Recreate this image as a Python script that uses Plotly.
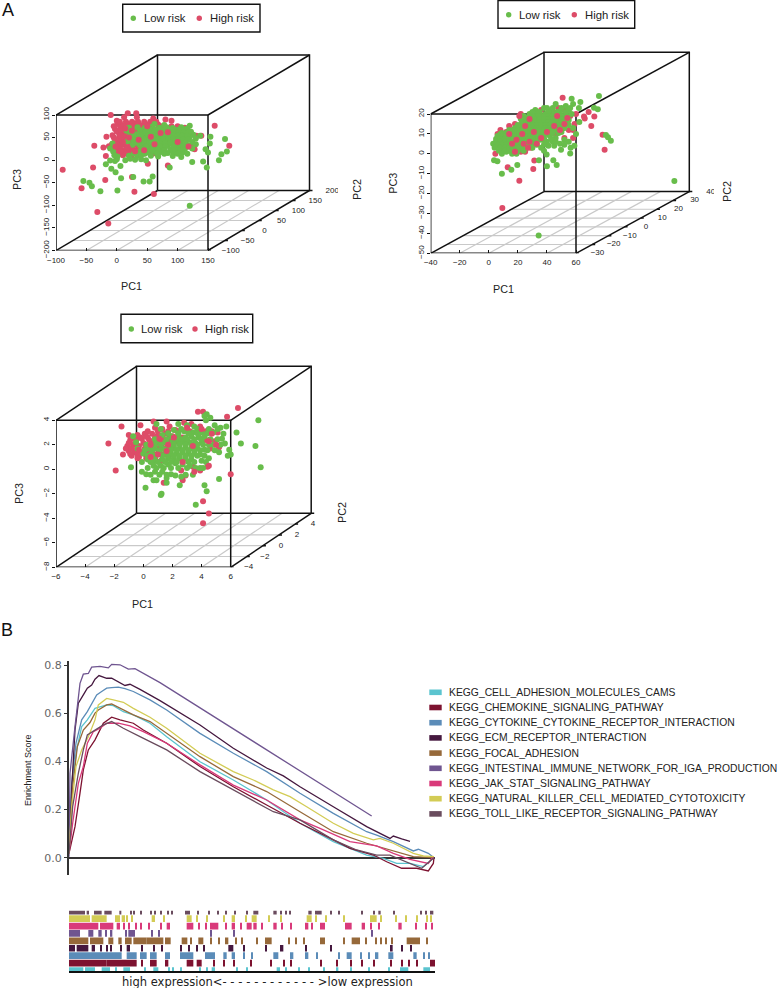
import plotly.graph_objects as go

W, H = 777, 988
GREEN, RED = "#68BD4B", "#DD4C68"

# ---------- Panel A1 (values read on the front plane of the box) ----------
a1_pc1_ticks = [-100, -50, 0, 50, 100, 150]
a1_pc2_ticks = [-100, -50, 0, 50, 100, 150, 200]
a1_pc3_ticks = [-200, -150, -100, -50, 0, 50, 100]
a1_high = [(-89,-21),(-58,-62),(-32,-115),(-14,-140),(61,-75),(29,-70),(-19,-44),(-39,-16),(-37,32),(185,32),(161,76),(-10,100),(18,104),(32,104),(84,-12),(25,-37),(-18,9),(-17,52),(-22,28),
 (0,87),(12,95),(33,95),(60,92),(80,90),(90,87),(112,72),(1,80),(8,78),(17,81),(23,79),(31,82),(38,78),(46,81),(52,79),(61,82),(68,79),(-3,69),(6,71),(13,68),(20,72),(29,69),(36,71),(44,68),
 (3,61),(9,59),(16,62),(25,58),(32,61),(40,59),(131,54),(139,54),(-5,50),(4,52),(12,49),(20,51),(28,48),(36,52),(44,49),(54,50),(4,41),(13,39),(20,42),(28,38),(38,41),(48,39),(62,42),(76,38),
 (-13,31),(-4,29),(6,32),(16,28),(26,31),(36,29),(46,32),(56,28),(72,30),(128,24),(0,20),(10,21),(20,18),(30,22),(42,19),(54,21),(-2,10),(10,11),(24,9),(38,12),(51,-8),(97,30),(110,40),(122,30)]
a1_high_rows = [(85,[5,15,25,35,45,55,65]),(75,[-5,10,25,40,55,75,90,100]),(64,[0,7,20,28,36,48]),(55,[-7,8,16,24,32,40]),(45,[-3,8,16,24,32,42]),(35,[-8,0,10,22,32,42,52]),(25,[-6,5,15,25,35,50]),(15,[5,15,27,45,60])]
a1_high_front = [(10,40),(18,28),(6,55),(25,65),(30,20),(45,22),(62,35),(72,60),(36,45),(50,75),(84,62),(100,40),(118,30),(56,52),(20,50),(-2,30),(6,20),(14,70)]
a1_low = [(120,-101),(-55,-46),(-45,-50),(-41,-58),(-27,-69),(1,-67),(7,-40),(27,-37),(44,-47),(54,-47),(59,-36),(-2,-27),(-9,-19),(-18,-9),(-11,-1),(-3,-2),(14,0),(6,-13),(87,-16),(148,-16),(124,-4),(142,-3),(168,0),(172,13),(181,19),(150,17),(146,24),(178,47),(154,52),(153,37),(137,54),
 (62,80),(78,78),(120,76),(20,72),(34,73),(46,71),(58,74),(70,72),(82,73),(92,71),(106,73),(116,70),(16,65),(26,64),(38,66),(50,65),(58,63),(66,66),(74,64),(82,66),(90,63),(98,65),(106,64),(114,66),(122,63),
 (22,58),(32,57),(42,59),(52,58),(60,56),(68,59),(76,57),(84,59),(92,56),(100,58),(108,57),(116,59),(126,56),(24,50),(36,49),(48,51),(56,50),(64,48),(72,51),(80,49),(88,51),(96,48),(104,50),(112,49),(120,51),(130,48),
 (18,42),(28,41),(40,43),(50,42),(58,40),(66,43),(74,41),(82,43),(90,40),(98,42),(106,41),(114,43),(124,40),(26,34),(38,33),(50,35),(58,34),(68,32),(76,35),(84,33),(92,35),(100,32),(110,34),(118,33),(130,35),
 (44,26),(54,25),(64,27),(74,26),(88,24),(102,27),(112,25),(124,26),(34,18),(50,17),(62,19),(72,18),(84,16),(92,19),(108,17),(116,14),(20,10),(34,9),(40,11),(56,10),(68,8),(92,9),(106,7),(0,2),(22,3),(30,1),(40,2),(48,0),(-6,19),(-11,26),(-7,37),(1,8),(-4,11)]
a1_low_rows = [(68,[55,63,71,79,87,95,103,111]),(61,[46,54,62,70,78,86,94,102,110,118]),(54,[28,40,52,60,68,76,84,92,100,108,116]),(46,[30,44,53,61,69,77,85,93,101,109,117]),(38,[34,46,54,62,70,80,88,96,104,112]),(30,[48,60,70,80,94,106,118]),(22,[40,58,68,78,96,104]),(14,[28,46,66,78,100])]

# ---------- Panel A2 ----------
a2_pc1_ticks = [-40, -20, 0, 20, 40, 60]
a2_pc2_ticks = [-30, -20, -10, 0, 10, 20, 30, 40]
a2_pc3_ticks = [-50, -40, -30, -20, -10, 0, 10, 20]
a2_high = [(9.3,-27.2),(21,-13.5),(13,-6.8),(30.6,-7.6),(31.3,-3.4),(4.5,0),(79.7,2),(78.3,9.6),(70.5,14),(72.6,18.7),(68.7,21),(50.8,28.2),(65.5,18.7),(66,17.7),(47.8,23),
 (22,20),(28,18.5),(36,22),(44,21),(52,22),(56,19),(60,20),(14,14),(18,15),(23,16),(27,14),(31,17),(48,17),(54,16),(59,15),(8,12),(12,11),(17,12),(21,13),(26,11),(32,11),(43,13),(50,14),(55,12),(58,12),
 (9,8),(14,7),(19,8),(23,7),(27,8),(31,5),(38,7),(46,10),(52,8),(18,3),(22,1),(25,1),(29,3),(34,8),(37,12),(40,15),(6,10),(58,8),(12,4),(33,14)]
a2_high_rows = []
a2_high_front = [(21,19),(28,17.5),(25,14),(31,11),(36,8),(19,7),(16,5),(24,5),(28,6),(45,14),(49,12),(52,15),(54,18),(47,19),(23,10),(27,3),(18,1),(33,5),(14,10),(40,11)]
a2_low = [(127.7,-13.7),(34.3,-41),(75.8,29),(57,27.7),(63,26),(72.4,23.2),(75,22.4),(80.6,9.5),(82,8.3),(84,6.6),(9,-10),(15.5,-8),(19.6,-5.6),(3.6,-3.3),(5.9,-3.8),(34.5,-3.3),(40,-6.3),(44.4,-3.3),(46.7,-5.6),(39.8,-0.3),(56,0.2),(49.7,2),(56.3,3),(58.9,4),(62.3,16),
 (46,25),(53,24),(58,25),(62,23),(32,22),(38,23),(43,22),(49,21),(55,22),(28,20),(32,20),(36,19),(39,20),(42,19),(45,20),(48,19),(52,19),(57,20),(26,18),(29,17),(33,18),(36,17),(39,18),(42,17),(45,18),(48,17),(51,16),(55,17),
 (24,16),(27,15),(30,16),(33,15),(36,15),(39,16),(42,15),(45,15),(48,14),(52,13),(58,13),(22,14),(25,13),(28,13),(31,13),(34,13),(37,14),(40,13),(43,12),(46,12),(50,11),(60,10),(16,11),(19,11),(22,11),(26,11),(29,10),(32,10),(35,11),(38,10),(42,9),(46,8),(52,7),
 (8,10),(11,9),(14,10),(17,9),(20,9),(23,9),(26,8),(29,8),(33,8),(36,7),(40,6),(44,6),(49,5),(55,6),(7,7),(10,6),(13,6),(16,6),(19,6),(22,6),(25,5),(28,5),(36,3),(41,4),(45,4),(4,5),(7,4),(10,2),(13,3),(16,3),(19,2),(22,3),(25,4),(16,0),(19,0),(12,1),(5,4),(3,5),(9,0)]
a2_low_rows = [(23,[40,44,50,56]),(21,[30,35,41,47,53]),(19,[24,30,34,38,41,44,47,50,54]),(17.5,[22,27,31,35,38,41,44,47,50,53]),(16,[23,26,29,32,35,38,41,44,47,50,53]),(14.5,[20,24,27,30,33,36,39,42,45,48,51,55]),(13,[18,21,24,27,30,33,36,39,42,45,48,51]),(12,[14,17,20,23,26,29,32,35,38,41,44]),(10.5,[9,12,15,18,21,24,27,30,33,36,40,44,48]),(9,[6,9,12,15,18,21,24,27,31,34,38]),(7.5,[5,8,11,14,17,20,23,27,30,34,38,43]),(6,[5,8,11,14,17,20,23,26,30,33,46]),(4.5,[6,9,12,15,18,21,24,27,33,38,52]),(3,[4,8,11,14,17,20,23,26,30]),(1.5,[7,11,14,17,20,24,38])]

# ---------- Panel A3 ----------
a3_pc1_ticks = [-6, -4, -2, 0, 2, 4, 6]
a3_pc2_ticks = [-4, -2, 0, 2, 4, 6]
a3_pc3_ticks = [-8, -6, -4, -2, 0, 2, 4]
a3_high = [(-2.4,2.1),(-1.9,-0.1),(-1.5,3.5),(-0.2,3.6),(-1,2.8),(4.1,-4.4),(4.5,-3.6),(4.1,-2.6),(6,-0.4),(6.5,5),(3.75,4.7),(4.1,4.7),(5.75,4.3),(2.9,-0.5),(1.4,-1.1),(-1.4,1.2),
 (0.7,3.9),(1.6,3.9),(2.8,3.8),(3.3,3.7),(0.8,3.4),(1.3,3.3),(1.8,3.5),(2.2,3.2),(-0.4,2.8),(0.1,2.9),(0.6,2.9),(1,2.8),(1.5,2.9),(2,2.7),(-0.9,2.4),(-0.5,2.4),(-0.1,2.5),(0.4,2.4),(0.9,2.3),(1.4,2.3),(1.9,2.2),(2.4,2.3),
 (-1.1,1.9),(-0.7,2),(-0.3,1.9),(0.2,1.9),(0.8,1.8),(1.3,1.8),(1.8,1.7),(-1,1.5),(-0.6,1.4),(-0.1,1.4),(0.4,1.4),(1,1.3),(1.5,1.2),(-0.8,1.1),(-0.3,1),(0.2,0.9),(0.8,0.9),(1.2,0.7),(3.9,3.5),(4.3,3.1),(4.7,3.1),(5.1,3),(3.8,2.6),(4.3,2.4),(4.9,2.3),(5.2,1.8),(4.6,1.7),(3.4,0.2),(3.9,-0.1),(4.4,0.2),(2.6,-0.1),(2.7,-0.9)]
a3_high_rows = [(3.1,[0.3,1,1.7,2.4,3.2]),(2.6,[-0.7,-0.2,0.3,0.8,1.3,1.8,2.2,2.7]),(2.15,[-1,-0.5,0,0.6,1.1,1.6,2.1]),(1.7,[-1.2,-0.8,-0.4,0.1,0.6,1.1,1.6]),(1.25,[-0.9,-0.4,0.1,0.7,1.2,1.8])]
a3_high_front = [(0.5,2),(-0.3,1.6),(1.1,2.5),(1.7,2),(0.2,2.7),(-0.8,1.7),(2.1,2.6),(1,1.2),(0.5,1),(3.4,1.9),(4.5,2.3),(4,3.3),(3,3.4),(1.6,1.5),(2.7,0.6),(3.5,-0.2),(4.5,0.3),(-0.4,0.9),(5,2),(4.7,2.9)]
a3_low = [(3.6,-2.9),(4.35,-1.8),(4.2,-1.3),(5.2,-0.8),(1.25,-2),(1.2,-2.1),(0.15,-1.5),(8.06,0.16),(7.7,1.9),(7.9,4),(6.7,2.1),(6.4,3),(6,1.2),(5.9,1.6),(-0.85,0.16),(-0.7,2.7),(2.5,-1.3),(4.35,4.5),(4.6,4.2),(4.2,4.35),(4.3,4),(1.6,-1.1),(0.7,-0.9),
 (0.9,3.7),(2.4,3.7),(3,3.6),(3.5,3.5),(4.9,3.6),(5.3,3.4),(5.7,3.5),(2.1,3.2),(2.8,3.1),(3.4,3),(4,3),(4.8,3),(5.5,2.9),(1.3,2.8),(1.9,2.7),(2.4,2.8),(2.9,2.6),(3.3,2.7),(3.8,2.6),(4.2,2.7),(5.4,2.5),(-0.5,2.2),(0.9,2.2),(1.5,2.2),(2,2.2),(2.4,2.3),(2.8,2.2),(3.2,2.2),(3.6,2.1),(4,2.2),(4.8,2),(5.6,2.1),
 (-0.4,1.7),(0.3,1.7),(0.8,1.7),(1.3,1.7),(1.7,1.8),(2.1,1.8),(2.5,1.7),(2.9,1.8),(3.3,1.7),(3.7,1.7),(4.2,1.6),(5.2,1.4),(5.8,1.1),(0,1.3),(0.5,1.2),(1,1.2),(1.5,1.3),(1.9,1.3),(2.3,1.3),(2.7,1.4),(3.1,1.3),(3.5,1.3),(3.9,1.2),(4.5,0.9),
 (0.3,0.8),(0.8,0.7),(1.3,0.8),(1.7,0.9),(2.1,0.9),(2.5,0.9),(2.9,0.9),(3.3,0.8),(4,0.7),(0.7,0.3),(1.2,0.3),(1.7,0.4),(2.2,0.5),(2.7,0.4),(3.2,0.3),(3.6,0.1),(4.1,0.1),(-0.1,-0.2),(0.2,-0.4),(0.8,-0.2),(1.3,-0.2),(1.9,-0.4),(2.2,-0.5),(2.6,-0.6),(1.6,-0.7),(0.9,-0.9)]
a3_low_rows = [(3.3,[1.2,2.6,3.7,4.5,5.1]),(2.95,[1.7,2.4,3.1,3.7,4.4]),(2.45,[0.8,1.6,2.2,2.6,3,3.5,4,4.6,5.1]),(2,[0.2,0.8,1.2,1.7,2.1,2.5,2.9,3.3,3.7,4.1,4.5,5.3]),(1.55,[0.1,0.6,1.1,1.5,1.9,2.3,2.7,3.1,3.5,3.9,4.4,4.9]),(1.1,[0.3,0.8,1.3,1.7,2.1,2.5,2.9,3.3,3.7,4.2]),(0.6,[-0.1,0.5,1,1.5,1.9,2.3,2.7,3.1,3.5,4.3]),(0.1,[0.3,0.9,1.4,1.9,2.4,3,3.9]),(-0.45,[0.5,1.1,1.6,2.9,3.4])]

# ---------- Panel B: enrichment curves ----------
gene_sets = ["KEGG_CELL_ADHESION_MOLECULES_CAMS", "KEGG_CHEMOKINE_SIGNALING_PATHWAY",
             "KEGG_CYTOKINE_CYTOKINE_RECEPTOR_INTERACTION", "KEGG_ECM_RECEPTOR_INTERACTION",
             "KEGG_FOCAL_ADHESION", "KEGG_INTESTINAL_IMMUNE_NETWORK_FOR_IGA_PRODUCTION",
             "KEGG_JAK_STAT_SIGNALING_PATHWAY", "KEGG_NATURAL_KILLER_CELL_MEDIATED_CYTOTOXICITY",
             "KEGG_TOLL_LIKE_RECEPTOR_SIGNALING_PATHWAY"]
set_colors = ["#5BC4CF", "#7D1230", "#5B8CB8", "#45183F", "#96693A", "#6F5590", "#D93A7A", "#D3CC55", "#6A4C5E"]
es_ticks = [0.0, 0.2, 0.4, 0.6, 0.8]

cams_rank = [0,8,23,38,55,78,113,133,163,193,243,293,393,493,593,693,793,893,943,983,1023,1063,1095]
cams_es = [.018,.295,.448,.545,.573,.621,.635,.632,.607,.594,.559,.503,.399,.323,.240,.143,.067,.011,-.003,-.024,-.024,-.037,0]
chem_rank = [0,8,18,33,43,58,78,103,128,153,193,223,293,393,493,593,693,793,843,913,953,998,1043,1078,1093,1095]
chem_es = [.018,.074,.129,.268,.365,.448,.490,.559,.584,.573,.559,.531,.476,.379,.295,.219,.143,.074,.039,.011,-.017,-.044,-.044,-.055,-.024,0]
cyto_rank = [0,8,21,38,55,68,83,98,113,128,148,168,193,243,293,393,493,593,693,793,893,923,973,1033,1048,1078,1095]
cyto_es = [.018,.309,.476,.573,.607,.642,.677,.691,.705,.707,.709,.703,.691,.656,.614,.517,.434,.358,.268,.184,.108,.094,.067,.028,.035,.018,0]
ecm_rank = [0,8,18,28,43,55,68,78,90,113,128,153,168,183,213,273,393,493,593,643,693,793,893,963,973,998,1023]
ecm_es = [.018,.282,.531,.642,.677,.705,.718,.742,.757,.746,.746,.725,.716,.721,.700,.653,.552,.455,.373,.340,.295,.212,.129,.080,.090,.078,.068]
focal_rank = [0,11,25,43,63,78,88,113,128,153,193,243,293,393,493,593,693,793,893,943,993,1033,1095]
focal_es = [.018,.295,.462,.531,.562,.601,.614,.635,.639,.621,.594,.566,.517,.420,.337,.275,.191,.108,.060,.039,.018,.004,0]
iga_rank = [0,3,18,33,43,58,68,93,118,128,153,178,198,233,273,908]
iga_es = [.004,.351,.545,.725,.763,.766,.792,.795,.789,.804,.802,.784,.786,.76,.728,.173]
jak_rank = [0,11,28,43,55,73,93,113,148,183,223,293,393,493,593,693,753,843,923,973,1023,1078,1088,1095]
jak_es = [.018,.143,.309,.379,.476,.524,.538,.559,.559,.548,.524,.476,.386,.302,.240,.157,.122,.067,.049,.018,-.007,-.024,-.003,0]
nk_rank = [0,8,21,38,58,78,88,113,133,163,193,243,293,393,493,553,613,663,713,793,853,913,933,973,1033,1063,1095]
nk_es = [.018,.212,.379,.448,.503,.573,.635,.662,.656,.646,.621,.584,.538,.434,.358,.323,.282,.254,.212,.143,.101,.074,.080,.060,.018,.007,.004]
toll_rank = [0,11,28,43,55,78,103,128,163,213,293,393,493,563,613,693,743,793,863,923,963,1013,1058,1095]
toll_es = [.018,.212,.351,.448,.510,.531,.552,.566,.538,.503,.448,.358,.282,.229,.191,.157,.115,.074,.032,.011,.011,-.017,-.044,0]

# ---------- Panel B: hit marks as (first rank, run length) ----------
hits_cams = [(0,43),(48,30),(98,25),(138,4),(163,20),(226,4),(253,15),(298,4),(311,4),(333,4),(390,4),(413,4),(428,10),(503,4),(533,4),(623,10),(648,4),(688,4),(718,4),(763,4),(803,5),(843,4),(898,4),(958,4),(993,25),(1063,20)]
hits_chem = [(0,113),(113,90),(218,4),(243,20),(288,10),(353,20),(383,15),(433,4),(463,4),(493,4),(543,4),(603,4),(643,4),(663,4),(753,4),(803,4),(843,4),(878,4),(913,4),(963,4),(998,4),(1018,4),(1043,4),(1083,15)]
hits_cyto = [(0,158),(173,30),(213,20),(243,20),(288,15),(333,40),(408,30),(463,10),(488,10),(523,4),(548,4),(613,15),(663,10),(708,10),(743,4),(808,4),(833,15),(873,4),(898,4),(918,10),(958,15),(1033,10),(1063,4),(1078,4)]
hits_ecm = [(0,18),(23,35),(68,10),(93,4),(113,4),(123,4),(153,4),(173,10),(218,4),(253,4),(278,4),(333,5),(358,4),(383,4),(403,4),(478,15),(523,4),(588,4),(633,10),(708,4),(783,4),(963,8),(998,4),(1023,4)]
hits_focal = [(0,58),(63,40),(118,15),(148,10),(168,20),(193,40),(233,50),(288,17),(338,17),(363,4),(388,15),(423,4),(448,4),(468,10),(498,4),(518,4),(563,4),(588,20),(658,4),(678,4),(703,4),(753,15),(823,4),(848,25),(888,4),(918,4),(933,4),(948,4),(968,4),(1013,40),(1073,4)]
hits_iga = [(0,33),(58,15),(88,10),(108,4),(123,7),(168,4),(178,20),(248,4),(268,4),(423,4),(493,4),(908,4)]
hits_jak = [(0,88),(93,40),(143,10),(163,4),(178,4),(198,4),(213,4),(238,4),(273,4),(293,10),(353,20),(388,4),(408,4),(423,25),(468,4),(488,10),(513,4),(533,15),(553,10),(578,4),(613,10),(638,4),(663,4),(708,10),(728,4),(753,15),(828,20),(878,10),(903,4),(928,4),(988,10),(1038,4),(1068,4),(1088,4)]
hits_nk = [(0,63),(68,45),(138,15),(158,10),(173,4),(188,4),(248,10),(283,4),(353,15),(383,4),(413,4),(463,4),(488,10),(528,4),(548,15),(598,4),(633,5),(713,15),(738,4),(768,4),(823,4),(903,20),(933,4),(978,4),(1008,4),(1043,4),(1073,4),(1083,4)]
hits_toll = [(0,48),(53,7),(75,23),(106,22),(151,6),(183,5),(193,4),(213,4),(243,5),(255,4),(273,5),(295,4),(307,4),(348,15),(386,4),(418,4),(446,4),(468,4),(495,4),(533,4),(553,15),(613,10),(633,4),(648,4),(661,4),(718,10),(738,20),(783,4),(809,4),(878,4),(913,5),(928,7),(973,4),(1053,5),(1068,4),(1083,10)]
rug_rows = [hits_cams, hits_chem, hits_cyto, hits_ecm, hits_focal, hits_iga, hits_jak, hits_nk, hits_toll]
curves = [(cams_rank, cams_es), (chem_rank, chem_es), (cyto_rank, cyto_es), (ecm_rank, ecm_es), (focal_rank, focal_es),
          (iga_rank, iga_es), (jak_rank, jak_es), (nk_rank, nk_es), (toll_rank, toll_es)]

# ---------- helpers ----------
def px(x): return x / W
def py(y): return 1 - y / H
def flat(pts, rows): return list(pts) + [(x, y) for y, xs in rows for x in xs]

annotations, shapes = [], []

def label(x, y, text, size=10.8, angle=0, color="#222222", family="Liberation Sans", anchor="center"):
    if anchor == "left":
        x -= 2  # annotation box padding
    annotations.append(dict(xref="paper", yref="paper", x=px(x), y=py(y), text=text, showarrow=False,
                            textangle=angle, xanchor=anchor, yanchor="middle", align="left",
                            font=dict(size=size, color=color, family=family)))

def risk_legend(box, d1, d2, t1, t2, yc):
    shapes.append(dict(type="rect", xref="paper", yref="paper", x0=px(box[0]), x1=px(box[1]), y0=py(box[2]), y1=py(box[3]),
                       line=dict(color="#111111", width=1.4), fillcolor="white"))
    for d, c in ((d1, GREEN), (d2, RED)):
        shapes.append(dict(type="circle", xref="paper", yref="paper", x0=px(d - 2.7), x1=px(d + 2.7), y0=py(yc - 2.7), y1=py(yc + 2.7),
                           line=dict(width=0), fillcolor=c))
    label(t1, yc, "Low risk", 11.3, anchor="left")
    label(t2, yc, "High risk", 11.3, anchor="left")

fig = go.Figure()
layout = dict(width=W, height=H, autosize=False, margin=dict(l=0, r=0, t=0, b=0, autoexpand=False), paper_bgcolor="white",
              plot_bgcolor="white", showlegend=False, bargap=0.05)

def panel(i, frame, pc1_ticks, pc2_ticks, pc3_ticks, high, low, high_front, label_dx):
    left, front_right, clip_right, top, front_top, bottom, back_dx, back_dy = frame
    sx = (front_right - left) / (pc1_ticks[-1] - pc1_ticks[0])
    sy = (bottom - front_top) / (pc3_ticks[-1] - pc3_ticks[0])
    x0, x1 = pc1_ticks[0], pc1_ticks[-1]
    z0, z1 = pc3_ticks[0], pc3_ticks[-1]
    dx, dy = back_dx / sx, back_dy / sy
    name = "" if i == 1 else str(i)
    xa, ya = "x" + name, "y" + name
    layout["xaxis" + name] = dict(domain=[px(left), px(clip_right)], range=[x0, x0 + (clip_right - left) / sx],
                                  anchor=ya, tickmode="array", tickvals=pc1_ticks, ticks="inside", ticklen=3, tickcolor="#111111", ticklabelstandoff=3,
                                  tickfont=dict(size=8, family="Liberation Sans", color="#222222"), showgrid=False, zeroline=False, showline=False)
    layout["yaxis" + name] = dict(domain=[py(bottom), py(top)], range=[z0, z0 + (bottom - top) / sy],
                                  anchor=xa, tickmode="array", tickvals=pc3_ticks, ticks="outside", ticklen=3, tickcolor="#111111", tickangle=-90,
                                  tickfont=dict(size=8, family="Liberation Sans", color="#222222"), showgrid=False, zeroline=False, showline=False)
    n = len(pc2_ticks) - 1
    gx, gy = [], []
    for v in pc1_ticks[1:-1]:
        gx += [v, v + dx, None]; gy += [z0, z0 + dy, None]
    for k in range(1, n):
        t = k / n
        gx += [x0 + t * dx, x1 + t * dx, None]; gy += [z0 + t * dy, z0 + t * dy, None]
    fig.add_trace(go.Scatter(x=gx, y=gy, mode="lines", line=dict(color="#C9C9C9", width=1.2), xaxis=xa, yaxis=ya, hoverinfo="skip", cliponaxis=False))
    bx = [x0, x1, x1, x0, x0, None, x0 + dx, x1 + dx, x1 + dx, x0 + dx, x0 + dx, None,
          x0, x0 + dx, None, x1, x1 + dx, None, x0, x0 + dx, None, x1, x1 + dx, None]
    by = [z0, z0, z1, z1, z0, None, z0 + dy, z0 + dy, z1 + dy, z1 + dy, z0 + dy, None,
          z0, z0 + dy, None, z0, z0 + dy, None, z1, z1 + dy, None, z1, z1 + dy, None]
    tick = 3 / sx
    for k in range(n + 1):
        t = k / n
        bx += [x1 + t * dx, x1 + t * dx + tick, None]; by += [z0 + t * dy, z0 + t * dy, None]
    fig.add_trace(go.Scatter(x=bx, y=by, mode="lines", line=dict(color="#111111", width=1.5), xaxis=xa, yaxis=ya, hoverinfo="skip", cliponaxis=False))
    lx = [x1 + k / n * dx + label_dx / sx for k in range(n + 1)]
    ly = [z0 + k / n * dy for k in range(n + 1)]
    lt = [str(v).replace("-", "\u2212") for v in pc2_ticks]
    tf = dict(size=8, family="Liberation Sans", color="#222222")
    fig.add_trace(go.Scatter(x=lx[:-1], y=ly[:-1], text=lt[:-1], mode="text", xaxis=xa, yaxis=ya, hoverinfo="skip",
                             textfont=tf, textposition="middle center", cliponaxis=False))
    fig.add_trace(go.Scatter(x=lx[-1:], y=ly[-1:], text=lt[-1:], mode="text", xaxis=xa, yaxis=ya, hoverinfo="skip",
                             textfont=tf, textposition="middle center", cliponaxis=True))
    for pts, c, nm in ((high, RED, "High risk"), (low, GREEN, "Low risk"), (high_front, RED, "High risk")):
        fig.add_trace(go.Scatter(x=[p[0] for p in pts], y=[p[1] for p in pts], mode="markers", name=nm, xaxis=xa, yaxis=ya, cliponaxis=False,
                                 marker=dict(color=c, size=6, line=dict(width=0))))

panel(1, (56, 208, 338, 50, 115, 250.5, 101.5, 60), a1_pc1_ticks, a1_pc2_ticks, a1_pc3_ticks, flat(a1_high, a1_high_rows), flat(a1_low, a1_low_rows), a1_high_front, 22.7)
panel(2, (430.7, 576, 714, 45, 114, 253.3, 113.3, 61.7), a2_pc1_ticks, a2_pc2_ticks, a2_pc3_ticks, flat(a2_high, a2_high_rows), flat(a2_low, a2_low_rows), a2_high_front, 21.5)
panel(3, (56, 230.7, 328.5, 360, 420.3, 567.3, 80.5, 54), a3_pc1_ticks, a3_pc2_ticks, a3_pc3_ticks, flat(a3_high, a3_high_rows), flat(a3_low, a3_low_rows), a3_high_front, 18)

risk_legend((122.7, 260, 4.3, 32), 133.3, 199.3, 144, 210, 18.3)
risk_legend((498, 634.7, 0.6, 28.3), 508.7, 574.3, 519.3, 585, 14.7)
risk_legend((121, 252.7, 314.3, 342.7), 131.3, 195, 141.3, 204.7, 329)

label(131, 286, "PC1"); label(17, 180, "PC3", angle=-90); label(357, 190, "PC2", angle=-90)
label(503, 289, "PC1"); label(392.7, 183, "PC3", angle=-90); label(727, 192, "PC2", angle=-90)
label(142.7, 604, "PC1"); label(19, 494, "PC3", angle=-90); label(342, 513, "PC2", angle=-90)
label(8, 10, "A", 18, color="#111111"); label(7, 630, "B", 18, color="#111111")

# curves
for (r, e), c, nm in zip(curves, set_colors, gene_sets):
    fig.add_trace(go.Scatter(x=r, y=e, mode="lines", name=nm, line=dict(color=c, width=1.3), xaxis="x4", yaxis="y4"))
layout["xaxis4"] = dict(domain=[px(69), px(435)], range=[0, 1098], anchor="y4", visible=False)
layout["yaxis4"] = dict(domain=[py(875), py(660.7)], range=[-0.072, 0.819], anchor="x4", tickmode="array", tickvals=es_ticks,
                        ticktext=["%.1f" % v for v in es_ticks], ticks="outside", ticklen=3, tickcolor="#333333",
                        tickfont=dict(size=11, family="DejaVu Sans", color="#666666"), showgrid=False, showline=True,
                        linecolor="#333333", linewidth=2, zeroline=True, zerolinecolor="#333333", zerolinewidth=2)
label(28, 770, "Enrichment Score", 9, angle=-90)

# hit marks
for row, (hits, c, nm) in enumerate(zip(rug_rows, set_colors, gene_sets)):
    fig.add_trace(go.Bar(y=[row] * len(hits), x=[h[1] for h in hits], base=[h[0] for h in hits], orientation="h",
                         marker=dict(color=c, line=dict(width=0)), name=nm, xaxis="x5", yaxis="y5", width=1.0))
layout["xaxis5"] = dict(domain=[px(69), px(435)], range=[0, 1098], anchor="y5", showticklabels=False, ticks="", showgrid=False,
                        zeroline=False, showline=True, linecolor="#111111", linewidth=1.5)
layout["yaxis5"] = dict(domain=[py(971), py(910.7)], range=[-0.5, 8.5], anchor="x5", visible=False)
label(267.5, 981.7, 'high expression&lt;<span style="letter-spacing:3.8px">------------</span>&gt;low expression', 11.5, color="#222222", family="DejaVu Sans")

# gene-set key
for k, (c, nm) in enumerate(zip(set_colors, gene_sets)):
    yc = 692.3 + 15.2 * k
    shapes.append(dict(type="rect", xref="paper", yref="paper", x0=px(429.3), x1=px(441.7), y0=py(yc - 2.8), y1=py(yc + 2.8),
                       line=dict(width=0), fillcolor=c))
    label(449, yc, nm, 10.35, color="#222222", anchor="left")

layout["annotations"] = annotations
layout["shapes"] = shapes
fig.update_layout(**layout)
fig.write_html("out.html", config=dict(displayModeBar=False), post_script="document.body.style.margin='0';")
